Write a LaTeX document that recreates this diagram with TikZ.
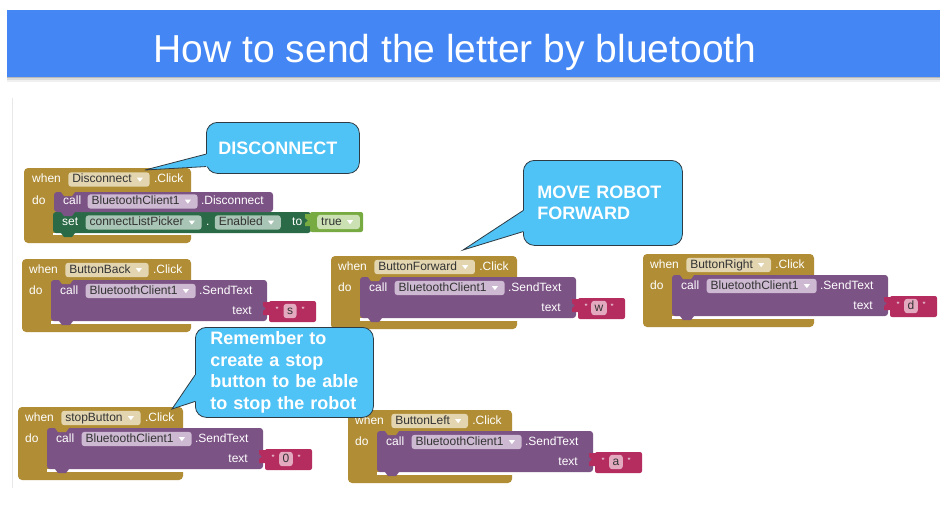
\documentclass[tikz,border=0pt]{standalone}
\usepackage{fontspec}
\setmainfont{Liberation Sans}
\usetikzlibrary{positioning,calc}

\definecolor{titleblue}{HTML}{4386F4}
\definecolor{goldcol}{HTML}{B18E35}
\definecolor{goldlight}{HTML}{E2D5B0}
\definecolor{purplecol}{HTML}{7C5385}
\definecolor{purplelight}{HTML}{CDB9D2}
\definecolor{pinkcol}{HTML}{B42D5E}
\definecolor{pinklight}{HTML}{E3A9BE}
\definecolor{greencol}{HTML}{2A6A46}
\definecolor{greenlight}{HTML}{A9C5B5}
\definecolor{truegreen}{HTML}{77AB41}
\definecolor{truelight}{HTML}{CBE1B4}
\definecolor{noteblue}{HTML}{4FC2F6}
\definecolor{notebord}{HTML}{2E3B44}

\newcommand{\blockfont}{\fontsize{12}{14}\selectfont}
\newcommand{\notefont}{\fontsize{18}{21.5}\selectfont\bfseries}

% little white arrow of a dropdown field
\newcommand{\dropmark}[1]{\fill[white] ([xshift=-13pt,yshift=1.8pt]#1.east) -- ++(6,0) -- ++(-3,4) -- cycle;}

% when <button>.Click do call BluetoothClient1.SendText text "<letter>"
\newcommand{\sendblock}[5]{%
  \begin{scope}[shift={(#1)}]
    \fill[goldcol, rounded corners=4pt] (0,0) rectangle (#4,73);
    \fill[white] (29,62) rectangle (#4+1,65);
    \fill[purplecol, rounded corners=3pt] (29,21) rectangle (245,62);
    \fill[goldcol] (37,21) -- (40,25) -- (48,25) -- (51,21) -- cycle;
    \fill[purplecol] (37,62) -- (40,66) -- (48,66) -- (51,62) -- cycle;
    \fill[pinkcol, rounded corners=2pt] (247,42) rectangle (294,63);
    \fill[pinkcol] (248,43) -- (241,43) -- (241,47) -- (244,49.5) -- (241,52) -- (241,56) -- (248,56) -- cycle;
    % header
    \node [lbl, anchor=west] (#2-when) at (7,11) {when};
    \node [goldfield, right=7pt of #2-when] (#2-btn) {#3\kern14pt};
    \dropmark{#2-btn}
    \node [lbl, right=4pt of #2-btn] (#2-click) {.Click};
    \node [lbl, anchor=west] (#2-do) at (7,32) {do};
    % call
    \node [lbl, anchor=west] (#2-call) at (38,32) {call};
    \node [purplefield, right=7pt of #2-call] (#2-bt) {BluetoothClient1\kern14pt};
    \dropmark{#2-bt}
    \node [lbl, right=3pt of #2-bt] (#2-send) {.SendText};
    \node [lbl, anchor=east] (#2-text) at (230,52) {text};
    \node [quote] (#2-q1) at (255,51) {"};
    \node [pinkfield] (#2-val) at (268,52) {#5};
    \node [quote] (#2-q2) at (281,51) {"};
  \end{scope}}

% tail of a speech bubble, from its left side to a tip
\newcommand{\notetail}[4]{%
  \coordinate (#1-a) at ($(#1.north west)!#3!(#1.south west)$);
  \coordinate (#1-b) at ($(#1.north west)!#4!(#1.south west)$);
  \fill[noteblue] (#1-a) -- (#2) -- (#1-b) -- ([xshift=2pt]#1-b) -- ([xshift=2pt]#1-a) -- cycle;
  \draw[notebord, line width=0.8pt] (#1-a) -- (#2) -- (#1-b);}

\begin{document}
\begin{tikzpicture}[x=1pt, y=-1pt]
  \tikzstyle{lbl} = [inner sep=0pt, text=white, font=\blockfont, text height=8.8pt, text depth=2.6pt]
  \tikzstyle{field} = [lbl, text=black!80, inner xsep=4pt, inner ysep=1.5pt, rounded corners=3pt]
  \tikzstyle{goldfield} = [field, fill=goldlight]
  \tikzstyle{purplefield} = [field, fill=purplelight]
  \tikzstyle{greenfield} = [field, fill=greenlight]
  \tikzstyle{truefield} = [field, fill=truelight]
  \tikzstyle{pinkfield} = [field, fill=pinklight, inner xsep=3.5pt]
  \tikzstyle{quote} = [inner sep=0pt, text=white, font=\fontsize{9}{9}\selectfont]
  \tikzstyle{note} = [draw=notebord, line width=0.8pt, fill=noteblue, rounded corners=11pt,
    text=white, font=\notefont, align=left, anchor=north west, inner ysep=0pt]

  \useasboundingbox (0,0) rectangle (940,531);
  \fill[white] (0,0) rectangle (940,531);

  % title bar
  \fill[black!6] (7,77) rectangle (940,82);
  \fill[black!14] (7,77) rectangle (940,79.5);
  \fill[black!28] (7,77) rectangle (940,78);
  \fill[titleblue] (7,10) rectangle (940,77);
  \node [font=\fontsize{39}{44}\selectfont, text=white, anchor=base, inner sep=0pt] (title) at (455,62)
    {How to send the letter by bluetooth};
  \draw[black!9, line width=0.8pt] (12,98) -- (12,488);

  % Disconnect block
  \begin{scope}[shift={(24,168)}]
    \fill[goldcol, rounded corners=4pt] (0,0) rectangle (167,75);
    \fill[white] (29,65) rectangle (168,67);
    \fill[greencol, rounded corners=3pt] (29,44) rectangle (287,65);
    \fill[purplecol, rounded corners=3pt] (30,24) rectangle (249,44);
    \fill[goldcol] (37,24) -- (40,28) -- (48,28) -- (51,24) -- cycle;
    \fill[purplecol] (37,44) -- (40,48) -- (48,48) -- (51,44) -- cycle;
    \fill[greencol] (37,65) -- (40,69) -- (48,69) -- (51,65) -- cycle;
    \fill[truegreen, rounded corners=2pt] (286,44) rectangle (339,64);
    \fill[truegreen] (287,46) -- (281,46) -- (281,50) -- (284,52.5) -- (281,55) -- (281,58) -- (287,58) -- cycle;
    \node [lbl, anchor=west] (dis-when) at (8,11.5) {when};
    \node [goldfield, right=7pt of dis-when] (dis-btn) {Disconnect\kern14pt};
    \dropmark{dis-btn}
    \node [lbl, right=4pt of dis-btn] (dis-click) {.Click};
    \node [lbl, anchor=west] (dis-do) at (8,33) {do};
    \node [lbl, anchor=west] (dis-call) at (39,33.5) {call};
    \node [purplefield, right=6pt of dis-call] (dis-bt) {BluetoothClient1\kern14pt};
    \dropmark{dis-bt}
    \node [lbl, right=3pt of dis-bt] (dis-method) {.Disconnect};
    \node [lbl, anchor=west] (dis-set) at (38,54.5) {set};
    \node [greenfield, right=7pt of dis-set] (dis-picker) {connectListPicker\kern14pt};
    \dropmark{dis-picker}
    \node [lbl, right=4pt of dis-picker] (dis-dot) {.};
    \node [greenfield, right=5pt of dis-dot] (dis-prop) {Enabled\kern14pt};
    \dropmark{dis-prop}
    \node [lbl, right=11pt of dis-prop] (dis-to) {to};
    \node [truefield, anchor=west] (dis-true) at (293,54) {true\kern14pt};
    \dropmark{dis-true}
  \end{scope}

  % SendText blocks
  \sendblock{22,259}{back}{ButtonBack}{169}{s}
  \sendblock{331,256}{fwd}{ButtonForward}{186}{w}
  \sendblock{643,254}{right}{ButtonRight}{171}{d}
  \sendblock{18,407}{stop}{stopButton}{165}{0}
  \sendblock{348,410}{left}{ButtonLeft}{164}{a}

  % speech bubbles
  \node [note, minimum width=153pt, minimum height=51pt, text width=129pt, inner xsep=12pt]
    (disnote) at (206,122) {DISCONNECT};
  \coordinate (disnote-tip) at (145,170);
  \notetail{disnote}{disnote-tip}{0.62}{0.86}

  \node [note, minimum width=159pt, minimum height=85pt, text width=131pt, inner xsep=14pt]
    (fwdnote) at (523,160) {MOVE ROBOT\\FORWARD};
  \coordinate (fwdnote-tip) at (463,250);
  \notetail{fwdnote}{fwdnote-tip}{0.59}{0.835}

  \node [note, minimum width=178pt, minimum height=90pt, text width=148pt, inner xsep=15pt]
    (stopnote) at (195,327) {Remember to\\create a stop\\button to be able\\to stop the robot};
  \coordinate (stopnote-tip) at (172,409);
  \notetail{stopnote}{stopnote-tip}{0.53}{0.82}
\end{tikzpicture}
\end{document}
